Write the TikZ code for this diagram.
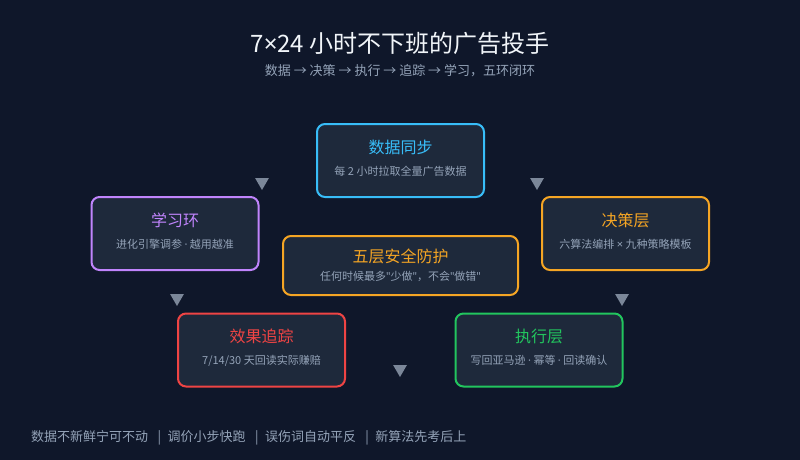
\documentclass[tikz,border=0pt]{standalone}
\usepackage{fontspec}
\setmainfont{Noto Sans CJK SC}
\newfontfamily\latinfont{Noto Sans}[Ligatures=TeXOff]
\usepackage{xcolor}
\usetikzlibrary{shapes.geometric,positioning}
\definecolor{bgnavy}{HTML}{0F172A}
\definecolor{cardfill}{HTML}{1E293B}
\definecolor{softgray}{HTML}{94A3B8}
\definecolor{markgray}{HTML}{7B8799}
\definecolor{titlewhite}{HTML}{F1F5F9}
\definecolor{syncblue}{HTML}{38BDF8}
\definecolor{learnpurple}{HTML}{C084FC}
\definecolor{decideorange}{HTML}{F5A524}
\definecolor{trackred}{HTML}{EF4444}
\definecolor{execgreen}{HTML}{22C55E}
\newcommand{\lat}[1]{{\latinfont #1}}
\newcommand{\cardlines}[4][10pt]{{\fontsize{16}{18}\selectfont\color{#2}#3}\\[#1]{\fontsize{11}{13}\selectfont\color{softgray}#4\rule[-6pt]{0pt}{0pt}}}
\tikzset{
  card/.style={draw=#1,fill=cardfill,line width=2pt,rounded corners=8pt,align=center,
               minimum width=167pt,minimum height=73pt,inner sep=0pt},
  downmark/.style={regular polygon,regular polygon sides=3,shape border rotate=180,
                   fill=markgray,minimum size=16pt,inner sep=0pt},
  headline/.style={text=titlewhite,font=\fontsize{24}{28}\selectfont},
  subline/.style={text=softgray,font=\fontsize{13}{16}\selectfont}
}
\begin{document}
\begin{tikzpicture}[x=1pt,y=-1pt]
  \useasboundingbox[fill=bgnavy] (0,0) rectangle (800,460);
  \node[headline] (title) at (400,43) {7\lat{×}24 小时不下班的广告投手};
  \node[subline] (subtitle) at (400,71) {数据 → 决策 → 执行 → 追踪 → 学习，五环闭环};
  % five stages
  \node[card=syncblue] (sync) at (400.5,160.5) {\cardlines{syncblue}{数据同步}{每 2 小时拉取全量广告数据}};
  \node[card=decideorange] (decide) at (625.5,233.5) {\cardlines{decideorange}{决策层}{六算法编排 \lat{×} 九种策略模板}};
  \node[card=execgreen] (exec) at (539,350) {\cardlines{execgreen}{执行层}{写回亚马逊 \lat{·} 幂等 \lat{·} 回读确认}};
  \node[card=trackred] (track) at (261.5,350) {\cardlines{trackred}{效果追踪}{7/14/30 天回读实际赚赔}};
  \node[card=learnpurple] (learn) at (175,233.5) {\cardlines{learnpurple}{学习环}{进化引擎调参 \lat{·} 越用越准}};
  \node[card=decideorange,minimum width=235pt,minimum height=59pt] (guard) at (400.5,265.5)
    {{\fontsize{16}{18}\selectfont\color{decideorange}五层安全防护}\\[6pt]
     {\fontsize{11}{13}\selectfont\color{softgray}任何时候最多\lat{"}少做\lat{"}，不会\lat{"}做错\lat{"}}};
  % flow marks
  \node[downmark] (m1) at (537,182) {};
  \node[downmark] (m2) at (622,298) {};
  \node[downmark] (m3) at (400,369) {};
  \node[downmark] (m4) at (177,298) {};
  \node[downmark] (m5) at (262,182) {};
  \node[subline,anchor=west,inner sep=0pt] (rules) at (31,438)
    {数据不新鲜宁可不动 \enspace|\enspace 调价小步快跑 \enspace|\enspace 误伤词自动平反 \enspace|\enspace 新算法先考后上};
\end{tikzpicture}
\end{document}
